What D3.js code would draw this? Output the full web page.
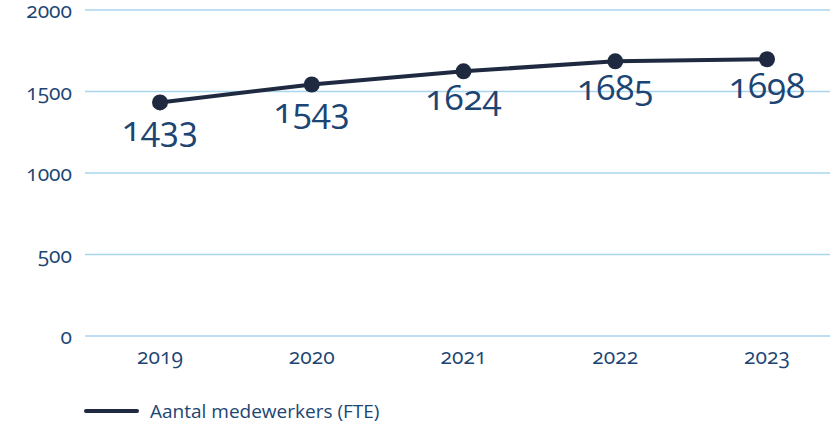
<!DOCTYPE html>
<html>
<head>
<meta charset="utf-8">
<script src="https://cdn.jsdelivr.net/npm/d3@7"></script>
<style>
  body { margin: 0; background: #fff; }
  svg text { font-family: "Open Sans", "Noto Sans", sans-serif; font-feature-settings: "onum" 1; }
</style>
</head>
<body>
<svg id="chart" width="830" height="422"></svg>
<script>
const years = ['2019', '2020', '2021', '2022', '2023'];
const fte = [1433, 1543, 1624, 1685, 1698];
const yTicks = [0, 500, 1000, 1500, 2000];
const seriesName = 'Aantal medewerkers (FTE)';

const svg = d3.select('#chart');
const textColor = '#1c4573';
const lineColor = '#1f2a40';
const gridColor = '#a9d5ee';

const x = d3.scalePoint().domain(years).range([160, 767]);
const y = d3.scaleLinear().domain([0, 2000]).range([336, 10]);

// grid
svg.append('g')
    .selectAll('line')
    .data(yTicks)
    .join('line')
    .attr('x1', 85)
    .attr('x2', 830)
    .attr('y1', d => y(d))
    .attr('y2', d => y(d))
    .attr('stroke', gridColor)
    .attr('stroke-width', 1.3);

// y axis labels
svg.append('g')
    .selectAll('text')
    .data(yTicks)
    .join('text')
    .attr('x', 72)
    .attr('y', d => y(d) + 8)
    .attr('text-anchor', 'end')
    .attr('fill', textColor)
    .style('font-size', '21px')
    .text(d => d);

// x axis labels
svg.append('g')
    .selectAll('text')
    .data(years)
    .join('text')
    .attr('x', d => x(d))
    .attr('y', 364)
    .attr('text-anchor', 'middle')
    .attr('fill', textColor)
    .style('font-size', '21px')
    .text(d => d);

const points = years.map((yr, i) => ({ year: yr, value: fte[i] }));

svg.append('path')
    .datum(points)
    .attr('fill', 'none')
    .attr('stroke', lineColor)
    .attr('stroke-width', 4)
    .attr('d', d3.line().x(d => x(d.year)).y(d => y(d.value)));

svg.append('g')
    .selectAll('circle')
    .data(points)
    .join('circle')
    .attr('cx', d => x(d.year))
    .attr('cy', d => y(d.value))
    .attr('r', 8)
    .attr('fill', lineColor);

// value labels under the points
svg.append('g')
    .selectAll('text')
    .data(points)
    .join('text')
    .attr('x', d => x(d.year))
    .attr('y', d => y(d.value) + 39)
    .attr('text-anchor', 'middle')
    .attr('fill', textColor)
    .style('font-size', '35px')
    .text(d => d.value);

// legend
svg.append('line')
    .attr('x1', 86)
    .attr('x2', 137)
    .attr('y1', 411)
    .attr('y2', 411)
    .attr('stroke', lineColor)
    .attr('stroke-width', 4)
    .attr('stroke-linecap', 'round');

svg.append('text')
    .attr('x', 150)
    .attr('y', 411)
    .attr('dy', '0.35em')
    .attr('fill', textColor)
    .style('font-size', '19px')
    .text(seriesName);
</script>
</body>
</html>
